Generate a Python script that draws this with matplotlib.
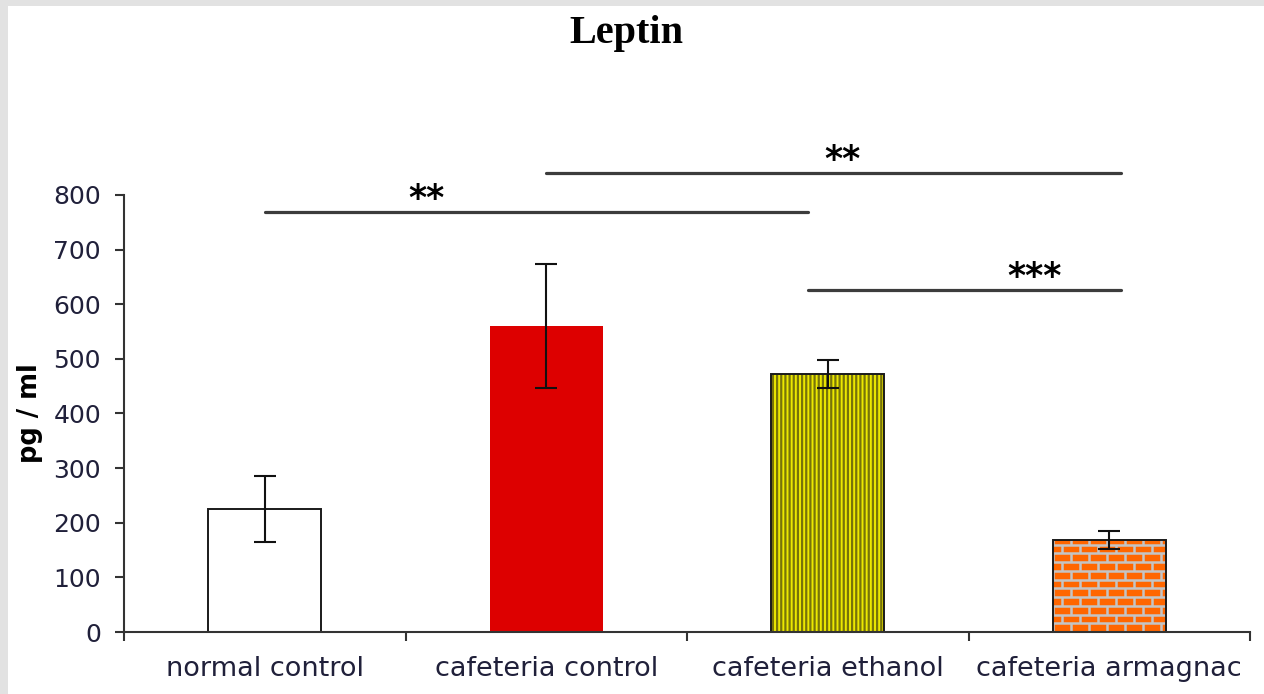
import matplotlib
matplotlib.use("Agg")
import matplotlib.pyplot as plt
from matplotlib.patches import Rectangle
from matplotlib.collections import LineCollection

GROUPS = ["normal control", "cafeteria control", "cafeteria ethanol", "cafeteria armagnac"]
MEANS = [225, 560, 472, 168]
ERRORS = [60, 114, 26, 16]

# significance bars: (start, end, height, label, label x, label baseline)
COMPARISONS = [
    (0.0, 1.93, 769, "**", 0.575, 774),
    (1.0, 3.04, 840, "**", 2.054, 845),
    (1.93, 3.04, 626, "***", 2.736, 631),
]

W, H = 1264, 694
fig = plt.figure(figsize=(W / 100, H / 100), dpi=100)
fig.patch.set_facecolor("white")

# grey frame on left and top like the screenshot
fig.patches.append(Rectangle((0, 0), 8 / W, 1, transform=fig.transFigure,
                             facecolor="#e2e2e2", edgecolor="none", zorder=-1))
fig.patches.append(Rectangle((0, 1 - 6 / H), 1, 6 / H, transform=fig.transFigure,
                             facecolor="#e2e2e2", edgecolor="none", zorder=-1))

ax = fig.add_axes([124 / W, 1 - 632 / H, (1250 - 124) / W, (632 - 195) / H])
x = list(range(len(GROUPS)))
bw = 0.4

faces = ["white", "#dd0000", "#ece800", "#ff6600"]
edges = ["#1a1a1a", "none", "#1a1a1a", "#1a1a1a"]

plt.rcParams["hatch.linewidth"] = 1.6
bars = ax.bar(x, MEANS, width=bw, color=faces, edgecolor="none", zorder=2)

# vertical stripes on the ethanol bar
ax.bar(x[2], MEANS[2], width=bw, facecolor="none", edgecolor="#77730a",
       linewidth=0, hatch="||||", zorder=2.1)

# brick pattern on the armagnac bar
b = bars[3]
bx0, bwid, bh = b.get_x(), b.get_width(), b.get_height()
row_h = 16
brick_w = bwid / 6.25
segs = []
k = 0
while k * row_h < bh + row_h:
    yb = k * row_h
    segs.append([(bx0, yb), (bx0 + bwid, yb)])
    off = (k % 2) * brick_w / 2
    xx = bx0 + off
    while xx < bx0 + bwid:
        segs.append([(xx, yb), (xx, yb + row_h)])
        xx += brick_w
    k += 1
lc = LineCollection(segs, colors="#c4c4c4", linewidths=1.8, zorder=2.1)
ax.add_collection(lc)
lc.set_clip_path(b)

# outlines
for i, e in enumerate(edges):
    if e != "none":
        ax.bar(x[i], MEANS[i], width=bw, facecolor="none", edgecolor=e,
               linewidth=1.4, zorder=2.2)

ax.errorbar(x, MEANS, yerr=ERRORS, fmt="none", ecolor="#111111",
            elinewidth=1.5, capsize=8, capthick=1.5, zorder=3)

for x0, x1, yl, lab, xt, yt in COMPARISONS:
    ax.plot([x0, x1], [yl, yl], color="#3c3c3c", linewidth=2.3,
            solid_capstyle="round", clip_on=False, zorder=3)
    ax.text(xt, yt, lab, ha="center", va="baseline", fontsize=25,
            fontweight="bold", color="black", clip_on=False)

ax.set_xlim(-0.5, 3.5)
ax.set_ylim(0, 800)
ax.set_yticks(range(0, 801, 100))
ax.set_xticks([-0.5, 0.5, 1.5, 2.5, 3.5])
ax.set_xticklabels([])
ax.set_xticks(x, minor=True)
ax.set_xticklabels(GROUPS, minor=True)

for s in ["top", "right"]:
    ax.spines[s].set_visible(False)
for s in ["left", "bottom"]:
    ax.spines[s].set_color("#333333")
    ax.spines[s].set_linewidth(1.5)

ax.tick_params(axis="y", direction="out", length=6.5, width=1.5, color="#333333",
               pad=10, labelsize=18, labelcolor="#20203a")
ax.tick_params(axis="x", which="major", direction="out", length=6.5, width=1.5,
               color="#333333")
ax.tick_params(axis="x", which="minor", length=0, pad=17, labelsize=19.5,
               labelcolor="#20203a")

fig.text(30 / W, 1 - 413 / H, "pg / ml", rotation=90, ha="center", va="center",
         fontsize=18.5, fontweight="bold", color="black")
fig.text(626 / W, 1 - 33 / H, "Leptin", ha="center", va="center",
         fontsize=29, fontweight="bold", family="Liberation Serif", color="black")

fig.savefig("out.png", dpi=100)
